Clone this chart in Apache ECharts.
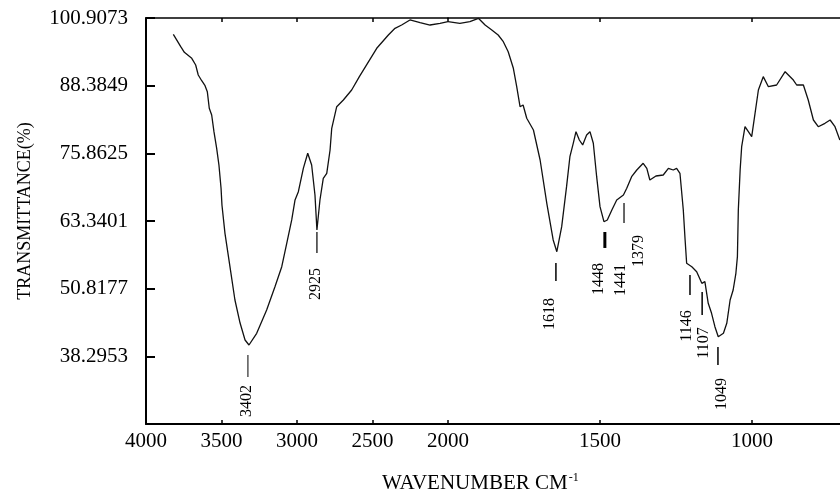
<!DOCTYPE html>
<html>
<head>
<meta charset="utf-8">
<script src="https://cdn.jsdelivr.net/npm/echarts@6/dist/echarts.min.js"></script>
<style>
html,body{margin:0;padding:0;background:#fff;}
#chart{width:840px;height:495px;}
</style>
</head>
<body>
<div id="chart"></div>
<script>
// ---- Data ----
const wavenumber = [
  3819,3770,3746,3697,3671,3654,3631,3609,3594,3581,3565,3550,3532,3517,3503,3497,3477,3444,3411,3377,
  3344,3318,3267,3201,3146,3101,3068,3035,3013,2991,2958,2929,2903,2881,2868,2848,2826,2803,2781,2770,
  2737,2693,2638,2587,2472,2395,2351,2307,2252,2185,2119,2053,2000,
  1961,1928,1900,1878,1856,1835,1818,1802,1785,1774,1763,1753,1741,1719,1697,1675,1654,1642,1626,1610,
  1599,1588,1579,1568,1557,1544,1533,1522,1511,1500,1487,1476,1461,1445,1423,1412,1396,1379,1358,1346,
  1336,1316,1292,1275,1259,1248,1237,1226,1220,1215,1198,1182,1165,1155,1144,1133,1122,1111,1094,1083,
  1072,1062,1053,1048,1045,1039,1034,1023,1001,990,979,963,946,919,891,864,853,831,815,798,782,760,743,727,711
];
const transmittance = [
  97.89,95.60,94.56,93.45,92.21,90.36,89.30,88.38,87.27,84.20,82.96,79.87,76.79,73.70,69.39,66.30,61.06,54.88,48.72,44.46,
  41.32,40.39,42.56,46.87,51.18,54.88,59.21,63.53,67.23,68.76,73.09,75.87,73.70,68.15,61.68,67.23,71.24,72.17,76.48,80.50,
  84.49,85.73,87.58,90.05,95.30,97.76,99.00,99.61,100.54,100.04,99.61,99.93,100.22,
  99.93,100.22,100.85,99.61,98.69,97.76,96.52,94.67,91.60,88.19,84.49,84.81,82.35,80.18,74.63,66.62,59.83,57.66,62.29,69.69,
  75.24,77.72,79.87,78.33,77.41,79.26,79.87,77.72,71.54,65.99,63.21,63.53,65.38,67.23,68.15,69.39,71.54,72.78,74.02,73.09,
  70.93,71.67,71.85,73.09,72.78,73.09,72.17,65.38,59.83,55.51,54.88,53.96,51.81,52.11,48.11,46.26,43.78,41.93,42.56,44.41,
  48.72,50.57,53.66,56.74,65.38,72.78,77.09,80.79,78.94,83.27,87.58,90.05,88.19,88.51,90.97,89.43,88.51,88.51,85.73,82.03,80.79,81.42,82.03,80.79,78.33
];
const yTickLabels = ['38.2953','50.8177','63.3401','75.8625','88.3849','100.9073'];
const yMin = 25.7729, yMax = 100.9073, yStep = 12.5224;

// peak annotations: label text, label position (wavenumber, %T)
const peakText  = ['3402','2925','1618','1448','1441','1379','1146','1107','1049'];
const peakTextX = [3331, 2874, 1664, 1503, 1431, 1372, 1214, 1158, 1099];
const peakTextY = [30.03, 51.68, 46.13, 52.61, 52.42, 57.79, 43.91, 40.76, 31.33];
// peak marker segments: wavenumber, top %T, bottom %T, width
const markX   = [3325, 2868, 1645, 1484, 1421, 1204, 1164, 1112];
const markTop = [38.54, 61.31, 55.57, 61.31, 66.67, 53.35, 50.20, 40.02];
const markBot = [34.47, 57.42, 52.24, 58.35, 62.97, 49.65, 45.95, 36.69];
const markW   = [1, 1.2, 1.5, 3, 1.2, 1.5, 1.5, 1.5];

// ---- build ----
const FONT = '"Liberation Serif","Times New Roman",serif';
const left = [], right = [];
wavenumber.forEach((w, i) => {
  if (w >= 2000) left.push([w, transmittance[i]]);
  if (w <= 2000) right.push([w, transmittance[i]]);
});
const marksL = [], marksR = [], labsL = [], labsR = [];
markX.forEach((w, i) => (w >= 2000 ? marksL : marksR).push([w, markTop[i], markBot[i], markW[i]]));
peakText.forEach((t, i) => (peakTextX[i] >= 2000 ? labsL : labsR).push([peakTextX[i], peakTextY[i], t]));

function tickItem(params, api) {
  const p1 = api.coord([api.value(0), api.value(1)]);
  const p2 = api.coord([api.value(0), api.value(2)]);
  return {type: 'line', shape: {x1: p1[0], y1: p1[1], x2: p2[0], y2: p2[1]},
          style: {stroke: '#000', lineWidth: api.value(3)}};
}
function labelItem(params, api) {
  const p = api.coord([api.value(0), api.value(1)]);
  return {type: 'text', x: p[0], y: p[1], rotation: Math.PI / 2,
          style: {text: api.value(2), font: '16px ' + FONT, fill: '#000', align: 'center', verticalAlign: 'middle'}};
}

const axisLineStyle = {color: '#000', width: 2};
const xBase = {type: 'value', inverse: true, interval: 500, splitLine: {show: false},
  axisLine: {lineStyle: axisLineStyle}, axisTick: {inside: true, length: 4, lineStyle: {color: '#000', width: 1.5}},
  axisLabel: {color: '#000', fontFamily: FONT, fontSize: 21, margin: 7, formatter: v => String(v)}};

const chart = echarts.init(document.getElementById('chart'), null, {renderer: 'canvas'});
chart.setOption({
  animation: false,
  backgroundColor: '#fff',
  grid: [
    {left: 146, top: 18, width: 302, height: 406, outerBoundsMode: 'none'},
    {left: 448, top: 18, width: 456, height: 406, outerBoundsMode: 'none'}
  ],
  xAxis: [
    Object.assign({}, xBase, {gridIndex: 0, min: 2000, max: 4000}),
    Object.assign({}, xBase, {gridIndex: 1, min: 500, max: 2000,
      axisLabel: Object.assign({}, xBase.axisLabel, {formatter: v => (v === 2000 || v === 500) ? '' : String(v)})}),
    Object.assign({}, xBase, {gridIndex: 0, min: 2000, max: 4000, position: 'top',
      axisLine: {lineStyle: {color: '#000', width: 1.5}}, axisLabel: {show: false}}),
    Object.assign({}, xBase, {gridIndex: 1, min: 500, max: 2000, position: 'top',
      axisLine: {lineStyle: {color: '#000', width: 1.5}}, axisLabel: {show: false}})
  ],
  yAxis: [
    {gridIndex: 0, type: 'value', min: yMin, max: yMax, interval: yStep, splitLine: {show: false},
     axisLine: {show: true, lineStyle: axisLineStyle},
     axisTick: {show: true, inside: true, length: 9, lineStyle: {color: '#000', width: 2}},
     axisLabel: {color: '#000', fontFamily: FONT, fontSize: 21, margin: 18, showMinLabel: false,
       formatter: v => { const s = v.toFixed(4); return yTickLabels.indexOf(s) >= 0 ? s : ''; }}},
    {gridIndex: 1, type: 'value', min: yMin, max: yMax, show: false}
  ],
  title: {
    text: 'WAVENUMBER CM{sup|-1}', left: 377, top: 467,
    textStyle: {color: '#000', fontFamily: FONT, fontSize: 21, fontWeight: 'normal',
      rich: {sup: {fontFamily: FONT, fontSize: 12, color: '#000', verticalAlign: 'top', padding: [0, 0, 10, 1]}}}
  },
  graphic: [{
    type: 'text', x: 25, y: 211, rotation: Math.PI / 2,
    style: {text: 'TRANSMITTANCE(%)', font: '18px ' + FONT, fill: '#000', align: 'center', verticalAlign: 'middle'}
  }],
  series: [
    {type: 'line', xAxisIndex: 0, yAxisIndex: 0, data: left, showSymbol: false, symbol: 'none',
     lineStyle: {color: '#111', width: 1.3}, silent: true},
    {type: 'line', xAxisIndex: 1, yAxisIndex: 1, data: right, showSymbol: false, symbol: 'none',
     lineStyle: {color: '#111', width: 1.3}, silent: true},
    {type: 'custom', xAxisIndex: 0, yAxisIndex: 0, data: marksL, renderItem: tickItem, silent: true},
    {type: 'custom', xAxisIndex: 1, yAxisIndex: 1, data: marksR, renderItem: tickItem, silent: true},
    {type: 'custom', xAxisIndex: 0, yAxisIndex: 0, data: labsL, renderItem: labelItem, silent: true,
     dimensions: ['x', 'y', {name: 't', type: 'ordinal'}]},
    {type: 'custom', xAxisIndex: 1, yAxisIndex: 1, data: labsR, renderItem: labelItem, silent: true,
     dimensions: ['x', 'y', {name: 't', type: 'ordinal'}]}
  ]
});
</script>
</body>
</html>
